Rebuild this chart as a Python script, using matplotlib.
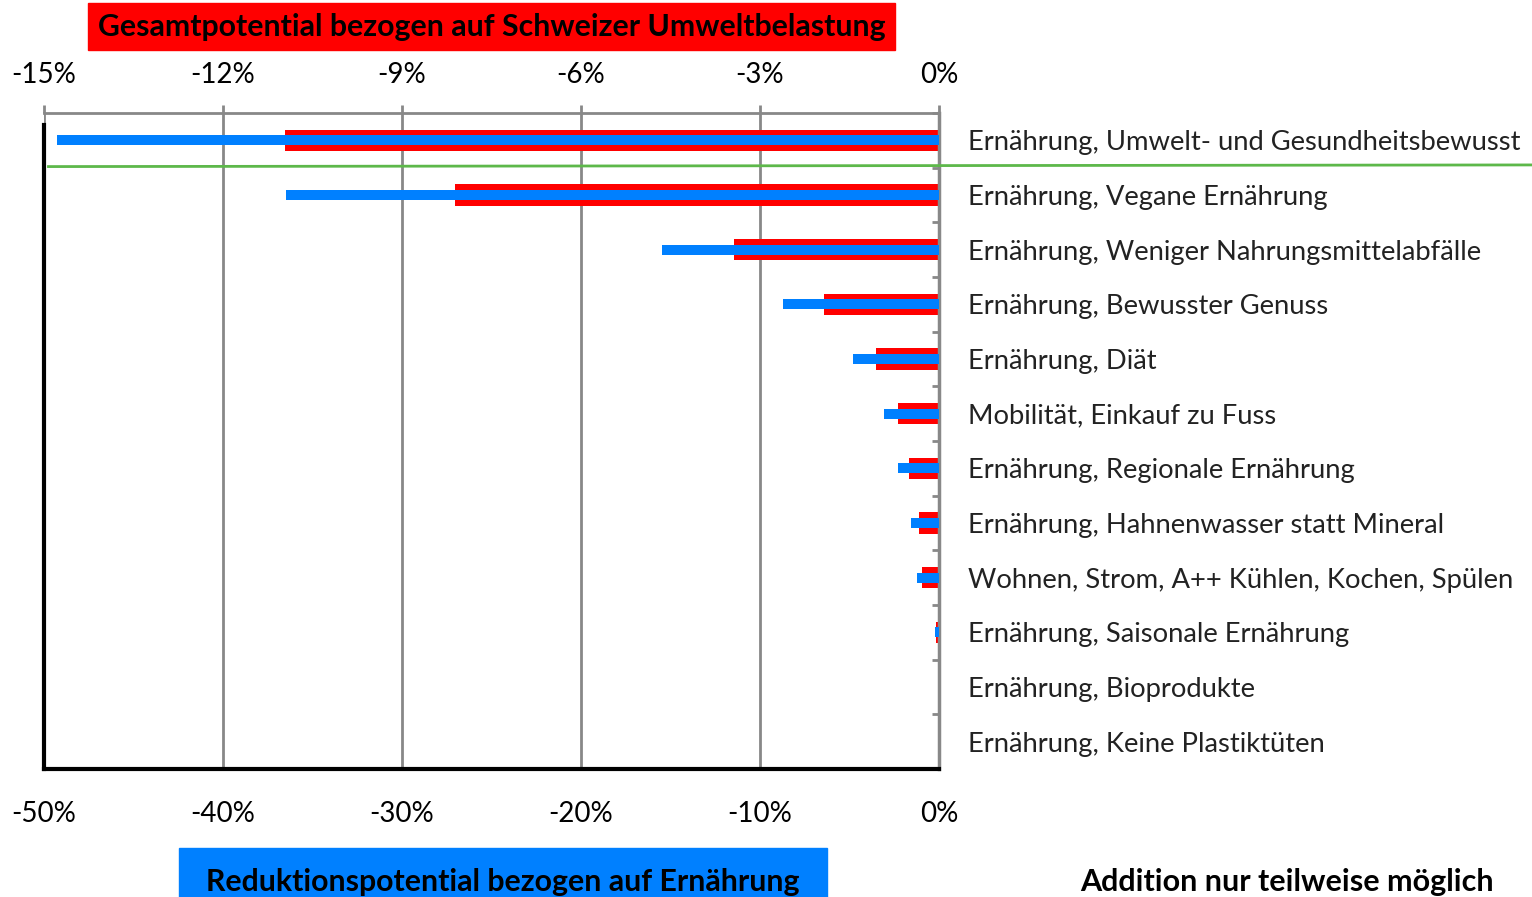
import matplotlib
matplotlib.use("Agg")
import matplotlib.pyplot as plt
from matplotlib.patches import Rectangle
from matplotlib.lines import Line2D
import numpy as np

# Measures, ordered top to bottom
categories = [
    "Ernährung, Umwelt- und Gesundheitsbewusst",
    "Ernährung, Vegane Ernährung",
    "Ernährung, Weniger Nahrungsmittelabfälle",
    "Ernährung, Bewusster Genuss",
    "Ernährung, Diät",
    "Mobilität, Einkauf zu Fuss",
    "Ernährung, Regionale Ernährung",
    "Ernährung, Hahnenwasser statt Mineral",
    "Wohnen, Strom, A++ Kühlen, Kochen, Spülen",
    "Ernährung, Saisonale Ernährung",
    "Ernährung, Bioprodukte",
    "Ernährung, Keine Plastiktüten",
]
# Total potential relative to Swiss environmental impact (%)
gesamt = [-10.96, -8.11, -3.43, -1.92, -1.06, -0.68, -0.50, -0.33, -0.28, -0.05, 0.0, 0.0]
# Reduction potential relative to food (%)
reduktion = [-49.3, -36.5, -15.5, -8.7, -4.8, -3.06, -2.27, -1.56, -1.25, -0.2, 0.0, 0.0]

top_ticks = [-15, -12, -9, -6, -3, 0]
bottom_ticks = [-50, -40, -30, -20, -10, 0]

RED = "#FF0000"
BLUE = "#0080FF"
GREEN = "#5DB84A"
GRID = "#888888"
FONT = "Lato"

W, H = 1532, 897
fig = plt.figure(figsize=(W / 100, H / 100), dpi=100)

left, right, bottom, top = 44 / W, 939 / W, 1 - 769 / H, 1 - 113 / H
ax = fig.add_axes([left, bottom, right - left, top - bottom])
ax2 = ax.twiny()

y = np.arange(len(categories))

ax.barh(y, gesamt, height=0.39, color=RED, zorder=2)
ax2.barh(y, reduktion, height=0.18, color=BLUE, zorder=3)

ax.set_xlim(-15, 0)
ax2.set_xlim(-50, 0)
ax.set_ylim(len(categories) - 0.5, -0.5)

# Top axis: total potential
ax.xaxis.tick_top()
ax.set_xticks(top_ticks)
ax.set_xticklabels([f"{t}%" for t in top_ticks], fontsize=20, family=FONT)
ax.tick_params(axis="x", which="major", direction="out", length=6,
               width=2, color=GRID, pad=12)
ax.grid(axis="x", color=GRID, linewidth=2, zorder=0)
ax.set_axisbelow(True)

# Bottom axis: reduction potential
ax2.xaxis.tick_bottom()
ax2.set_xticks(bottom_ticks)
ax2.set_xticklabels([f"{t}%" for t in bottom_ticks], fontsize=20, family=FONT)
ax2.tick_params(axis="x", direction="out", length=0, pad=23)

# Category labels on the right with boundary ticks
ax.yaxis.tick_right()
ax.set_yticks(y)
ax.set_yticklabels(categories, fontsize=19.7, family=FONT, color="#222222")
ax.tick_params(axis="y", which="major", length=0, pad=21)
ax.set_yticks(np.arange(-0.5, len(categories), 1.0), minor=True)
ax.tick_params(axis="y", which="minor", direction="in", length=5,
               width=2, color=GRID, right=True, left=False)

for a in (ax, ax2):
    for s in a.spines.values():
        s.set_visible(False)

ax.spines["top"].set_visible(True)
ax.spines["top"].set_color(GRID)
ax.spines["top"].set_linewidth(2)
ax.spines["right"].set_visible(True)
ax.spines["right"].set_color(GRID)
ax.spines["right"].set_linewidth(2.5)
ax2.spines["bottom"].set_visible(True)
ax2.spines["bottom"].set_color("black")
ax2.spines["bottom"].set_linewidth(3)

# Left axis line for the reduction scale
ax2.add_line(Line2D([0, 0], [0, 1 - 12 / 656], transform=ax2.transAxes,
                    color="black", linewidth=3, clip_on=False, zorder=5))

# Separator under the first measure, running past the labels
sep_lo = ax.transAxes.inverted().transform(ax.transData.transform((0, 0.48)))[1]
sep_hi = ax.transAxes.inverted().transform(ax.transData.transform((0, 0.45)))[1]
ax.add_line(Line2D([0.005, (W - 44) / 895], [sep_lo, sep_hi],
                   transform=ax.transAxes, color=GREEN, linewidth=2,
                   clip_on=False, zorder=6))

# Scale captions
fig.patches.append(Rectangle((88 / W, 1 - 50 / H), (895 - 88) / W, 47 / H,
                             transform=fig.transFigure, color=RED, zorder=0))
fig.text((88 + 895) / 2 / W, 1 - 27 / H,
         "Gesamtpotential bezogen auf Schweizer Umweltbelastung",
         ha="center", va="center", fontsize=21.8, fontweight="bold",
         family=FONT, color="black")
fig.patches.append(Rectangle((179 / W, 0), (827 - 179) / W, 49 / H,
                             transform=fig.transFigure, color=BLUE, zorder=0))
fig.text((179 + 827) / 2 / W, 1 - 882 / H,
         "Reduktionspotential bezogen auf Ernährung",
         ha="center", va="center", fontsize=21.8, fontweight="bold",
         family=FONT, color="black")
fig.text((1080 + 1493) / 2 / W, 1 - 882 / H,
         "Addition nur teilweise möglich",
         ha="center", va="center", fontsize=22, fontweight="bold",
         family=FONT, color="black")

fig.savefig("out.png", dpi=100)
